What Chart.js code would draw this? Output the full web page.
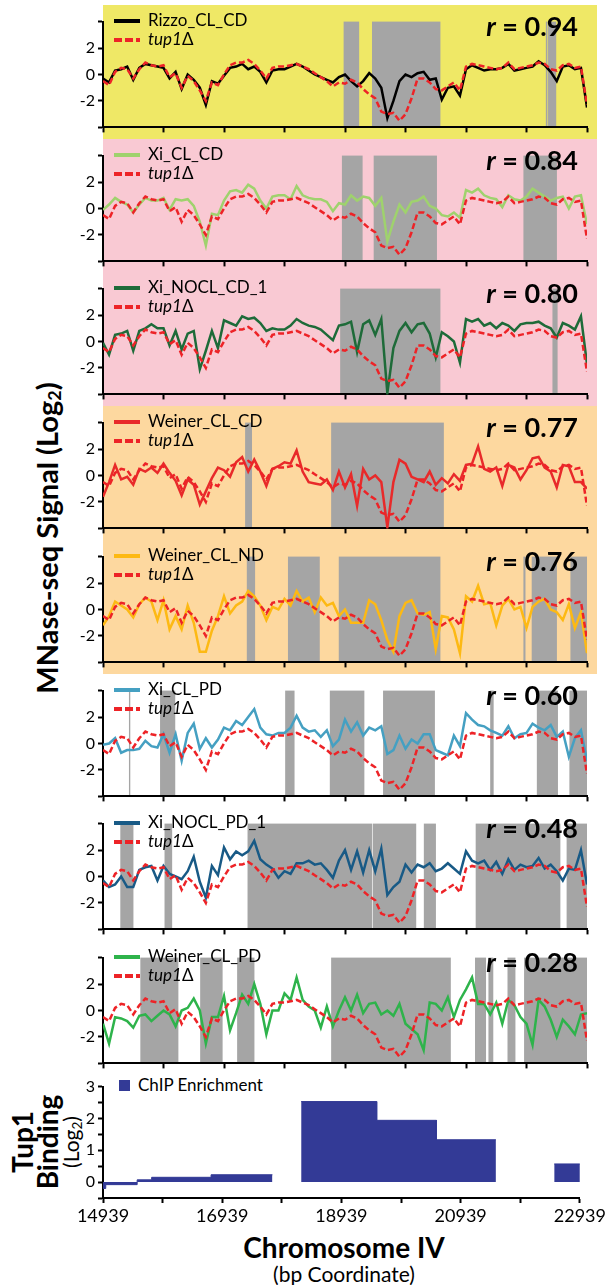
<!DOCTYPE html>
<html>
<head>
<meta charset="utf-8">
<script src="https://cdn.jsdelivr.net/npm/chart.js@4.4.1/dist/chart.umd.min.js"></script>
<style>
  body { margin: 0; background: #fff; font-family: Lato, "Open Sans", sans-serif; color: #000; }
  #page { position: relative; width: 608px; height: 1285px; overflow: hidden; }
  .band { position: absolute; left: 103px; width: 494px; }
  canvas { position: absolute; left: 40px; }
  .leg { position: absolute; left: 114px; font-size: 17px; line-height: 19px; white-space: nowrap; }
  .sw { display: inline-block; width: 26px; height: 4px; vertical-align: middle; margin-right: 8px; position: relative; top: -1px; }
  .rval { position: absolute; right: 30px; font-weight: bold; font-size: 27px; line-height: 32px; white-space: nowrap; }
  .rot { position: absolute; transform: translate(-50%, -50%) rotate(-90deg); white-space: nowrap; text-align: center; }
  .ctr { position: absolute; transform: translate(-50%, -50%); white-space: nowrap; }
</style>
</head>
<body>
<div id="page">
  <div class="rot" style="left:47px; top:538px; font-weight:bold; font-size:29px;">MNase-seq Signal (Log<sub style="font-size:0.62em; vertical-align:-0.15em;">2</sub>)</div>
  <div class="rot" style="left:49px; top:1142px;">
    <div style="font-weight:bold; font-size:28px; line-height:25px;">Tup1</div>
    <div style="font-weight:bold; font-size:28px; line-height:25px;">Binding</div>
    <div style="font-size:21px; line-height:22px;">(Log<sub style="font-size:0.65em; vertical-align:-0.15em;">2</sub>)</div>
  </div>
  <div class="ctr" style="left:344px; top:1247px; font-weight:bold; font-size:28px;">Chromosome IV</div>
  <div class="ctr" style="left:344px; top:1273px; font-size:21px;">(bp Coordinate)</div>
  <div style="position:absolute; left:119px; top:1080px; width:11px; height:11px; background:#333a96;"></div>
  <div style="position:absolute; left:138px; top:1075px; font-size:17px; line-height:20px;">ChIP Enrichment</div>
</div>
<script>
var tickValues = [14939, 15939, 16939, 17939, 18939, 19939, 20939, 21939, 22939];
var labelValues = [14939, 16939, 18939, 20939, 22939];

// sampled every 100 bp from 14939 to 22939
var positions = [];
for (var bp = 14939; bp <= 22939; bp += 100) positions.push(bp);

var tup1 = [
  -0.5, -0.8, 0.2, 0.5, 0.4, -0.3, 0.4, 0.9, 0.7, 0.6,
  0.7, -0.2, 0.1, -1.0, -0.1, -0.5, -1.2, -2.0, -0.6, -0.8,
  0.0, 0.7, 0.9, 0.9, 1.1, 0.8, 0.3, -0.3, 0.5, 0.6,
  0.6, 0.7, 0.8, 0.6, 0.4, 0.1, -0.2, -0.5, -0.9, -0.6,
  -0.7, -0.4, -0.6, -1.1, -1.5, -1.8, -2.8, -3.0, -2.9, -3.5,
  -3.0, -1.8, -0.3, -0.3, -0.6, -1.1, -1.2, -0.9, -0.6, -1.2,
  0.6, 0.8, 0.7, 0.6, 0.5, 0.4, 0.5, 0.9, 0.4, 0.5,
  0.6, 0.7, 0.9, 0.8, 0.4, 0.3, 0.7, 0.8, 0.5, 0.6, -2.3
];
var rizzoCLCD = [
  -0.3, -0.6, 0.3, 0.4, 0.6, -0.4, 0.5, 0.8, 0.7, 0.6,
  0.5, -0.3, 0.2, -1.1, 0.0, -0.4, -1.0, -2.3, -0.5, -0.7,
  -0.1, 0.5, 0.6, 0.8, 0.4, 0.6, 0.2, -0.6, 0.3, 0.4,
  0.4, 0.6, 0.8, 0.6, 0.3, 0.0, -0.2, -0.4, -0.6, -0.2,
  0.0, -0.5, -0.9, -0.5, 0.1, -0.3, -1.0, -3.3, -2.0, -0.5,
  0.0, -0.2, 0.1, 0.2, -0.4, -0.3, -1.9, -1.0, -0.9, -1.6,
  0.4, 0.7, 0.5, 0.3, 0.4, 0.4, 0.5, 0.8, 0.3, 0.4,
  0.5, 0.6, 1.0, 0.7, 0.2, -0.5, 0.6, 0.7, 0.4, 0.5, -2.5
];
var xiCLCD = [
  -0.1, 0.3, 0.8, 0.5, 0.3, -0.3, 0.3, 0.8, 0.6, 0.6,
  0.8, -0.1, 0.7, 0.6, 0.7, 0.2, -1.0, -2.8, -0.4, -0.5,
  0.6, 1.3, 1.4, 1.2, 1.8, 1.5, 0.6, 0.0, 0.9, 1.0,
  1.0, 0.7, 1.7, 1.0, 0.8, 0.7, 0.7, 0.5, -0.2, 0.4,
  0.3, 1.0, 0.6, 0.9, 0.8, 0.2, 0.8, -2.5, -1.0, 0.3,
  -0.3, 0.5, 0.6, 0.9, 0.2, 0.0, -0.5, -0.6, -0.3, -0.7,
  1.4, 1.2, 1.5, 1.0, 0.8, 0.7, 0.1, 1.0, 0.7, 0.6,
  0.9, 1.5, 1.2, 0.9, 0.6, 0.8, 0.9, 0.0, 0.9, 1.0, -1.2
];
var xiNOCLCD1 = [
  -0.1, -1.0, 0.5, 0.6, 0.8, -0.7, 0.8, 1.0, 1.3, 1.0,
  1.0, -0.3, 0.8, -0.6, 0.6, 0.8, -2.1, -0.7, 0.8, -0.5,
  1.6, 1.4, 1.2, 1.9, 1.7, 1.8, 1.4, 0.8, 1.0, 0.9,
  0.9, 1.2, 1.7, 1.4, 1.2, 1.1, 0.9, 0.5, 0.1, 1.2,
  1.3, 1.5, -0.8, 1.3, 1.6, 0.5, 1.7, -3.9, -0.5, 0.8,
  1.4, 0.7, 1.3, 1.4, 0.6, -1.2, 0.7, 0.4, 0.0, -1.6,
  1.7, 1.5, 1.7, 1.2, 1.4, 1.0, 1.4, 1.2, 0.8, 1.3,
  1.4, 1.4, 1.5, 1.2, 1.0, 0.3, 1.4, 1.2, 0.9, 1.9, -1.7
];
var weinerCLCD = [
  -1.6, -0.5, 0.8, -0.3, -0.1, -0.7, 0.5, 0.3, 0.6, 0.2,
  0.9, 0.2, -0.4, -1.5, -0.3, -0.7, -2.2, -1.2, -0.2, 0.6,
  0.4, -0.1, 1.0, 1.4, 0.3, 1.2, 0.3, -0.8, 0.5, 0.7,
  1.0, 0.9, 1.9, 0.3, -0.5, -0.6, -0.7, -0.3, -1.1, 0.3,
  -0.9, 0.1, -2.3, 0.5, -0.3, 0.0, -0.5, -3.9, -0.5, 1.2,
  0.9, -0.1, -0.3, -0.5, 0.3, -0.7, -0.2, -0.6, 0.1, -0.4,
  0.8, 0.9, 2.2, 0.5, 0.3, 0.6, -0.8, 0.8, 0.6, -0.3,
  0.4, 1.3, 1.4, 0.6, 0.3, -0.9, 0.8, 0.7, -0.5, -0.5, -1.0
];
var weinerCLND = [
  -1.2, -0.5, 0.6, 0.3, 0.0, -0.6, 0.4, 0.9, 0.6, -0.8,
  0.7, -1.5, -0.5, -1.5, 0.3, -1.0, -3.2, -3.2, -1.6, -0.5,
  1.0, -0.3, 0.3, 0.6, 1.4, 1.0, 0.3, -0.8, 0.2, 0.0,
  0.8, 0.3, 1.4, 0.6, 0.9, -0.2, 0.9, 0.3, 0.5, -0.5,
  0.0, -1.0, -1.0, -1.0, 0.7, 0.4, -0.8, -2.3, -3.2, -0.5,
  0.5, 0.7, -0.3, -0.4, -0.2, -3.0, -0.5, -0.6, -1.5, -3.3,
  1.0, 0.6, 1.8, 0.4, 0.5, -1.2, 0.3, 0.8, 0.0, 0.2,
  -1.4, 0.2, 0.6, 0.8, 0.0, -0.2, -0.8, 0.4, -1.4, -0.2, -3.3
];
var xiCLPD = [
  -0.1, 0.0, 0.4, -0.7, -0.5, -0.5, -0.4, 0.2, -0.2, -0.3,
  0.7, -0.7, 0.7, -1.3, 0.8, 1.5, -0.4, 0.4, -0.3, 0.3,
  1.2, 1.0, 1.7, 1.4, 2.0, 2.6, 1.2, 0.7, 0.6, 0.8,
  0.8, 1.2, 2.1, 1.2, 0.9, 1.0, 0.5, 1.0, -0.2, 0.3,
  1.8, 0.9, 1.6, 0.6, 1.2, 1.0, 1.3, -0.8, -0.5, 0.6,
  -0.4, 0.3, 0.0, 0.7, 0.7, -0.5, -0.7, -0.9, 0.6, -0.2,
  2.3, 1.8, 1.4, 1.3, 1.0, 0.8, 0.6, 1.3, 0.4, 0.7,
  0.8, 1.5, 1.2, 1.0, 1.4, 0.5, 0.9, -1.0, 0.4, 1.0, -1.3
];
var xiNOCLPD1 = [
  -0.3, -0.8, -0.6, 0.0, -0.8, -0.8, 0.5, 0.7, 0.8, -0.3,
  0.8, 0.2, 0.0, -0.2, 0.4, 1.5, -0.4, -1.6, 0.8, 0.1,
  2.2, 1.3, 1.9, 1.6, 1.9, 2.7, 1.3, 0.9, 0.6, -0.1,
  0.4, 0.2, 1.0, 1.0, 1.2, 0.9, 1.0, 0.5, -0.1, 1.2,
  2.0, 0.5, 1.9, 0.3, 2.0, 0.4, 2.1, -1.4, -0.8, -0.4,
  0.9, 0.3, 0.9, 0.7, 1.0, 0.4, 0.6, 1.0, 0.6, 0.2,
  1.9, 1.2, 1.0, 1.2, 0.5, 1.1, 0.2, 1.3, 0.5, 0.9,
  0.7, 0.8, 1.4, 0.6, 0.9, 0.4, -0.3, 0.6, 0.5, 2.0, -0.6
];
var weinerCLPD = [
  -1.0, -2.5, -0.5, -0.6, -0.8, -1.3, -0.4, -0.3, -0.8, -0.4,
  0.0, -0.3, -1.2, 0.0, 0.2, 0.9, 0.0, -2.5, -0.5, -0.5,
  1.1, -1.5, -0.2, 1.2, 0.5, 2.0, 0.5, -1.8, 0.0, 0.0,
  1.3, 0.8, 2.5, 0.8, 0.3, 0.0, -1.3, 0.3, -1.2, 0.0,
  1.0, 0.0, 1.2, -0.2, 0.5, 0.6, -0.3, 0.0, -0.4, 0.5,
  -1.0, -1.4, -1.8, -3.0, 0.6, 0.5, 0.0, 1.0, -0.5, 0.8,
  1.6, 2.5, 0.5, 0.5, -0.3, 0.6, -1.0, 0.8, 0.4, -0.5,
  -1.0, -2.6, 0.8, 0.3, -0.7, -2.0, -0.7, -1.2, -1.8, -0.3, -0.2
];

var sampleNames = ["Rizzo_CL_CD", "Xi_CL_CD", "Xi_NOCL_CD_1", "Weiner_CL_CD", "Weiner_CL_ND", "Xi_CL_PD", "Xi_NOCL_PD_1", "Weiner_CL_PD"];
var sampleSeries = [rizzoCLCD, xiCLCD, xiNOCLCD1, weinerCLCD, weinerCLND, xiCLPD, xiNOCLPD1, weinerCLPD];
var correlations = ["0.94", "0.84", "0.80", "0.77", "0.76", "0.60", "0.48", "0.28"];

// grey boxes, bp start/end
var shadeRegions = [
  [[18916, 19173], [19385, 20516], [22259, 22285], [22295, 22430]],
  [[18888, 19230], [19413, 20459], [21888, 22442]],
  [[18859, 20516], [22368, 22453]],
  [[17288, 17402], [18710, 20573]],
  [[17316, 17453], [17996, 18522], [18836, 20516], [21888, 21922], [22025, 22442], [22665, 22939]],
  [[15368, 15390], [15882, 16133], [17950, 18105], [18688, 19259], [19568, 20425], [21339, 21396], [22110, 22459], [22648, 22939]],
  [[15225, 15442], [15956, 16082], [17328, 19385], [19396, 20116], [20242, 20442], [21099, 22499], [22602, 22939]],
  [[15556, 16185], [16545, 16916], [17156, 17442], [18710, 20688], [21088, 21270], [21310, 21390], [21625, 21756], [21899, 22939]]
];

// Tup1 ChIP enrichment blocks
var chipStart = [14939, 14985, 15512, 15755, 16752, 18263, 19530, 20533, 22508];
var chipEnd = [14985, 15512, 15755, 16752, 17781, 19530, 20533, 21530, 22939];
var chipValue = [-0.2, -0.08, 0.07, 0.15, 0.23, 2.53, 1.94, 1.33, 0.57];

var lineColors = ["#000000", "#9fd26d", "#1e6b39", "#e82a2a", "#fdb913", "#45a0c2", "#185a86", "#2eb34b"];
var bandColors = ["#efe866", "#f9c9d3", "#f9c9d3", "#fdd89f", "#fdd89f", null, null, null];
var tupColor = "#ed2327";

var shadePlugin = {
  id: "shade",
  beforeDraw: function (chart, args, opts) {
    var xs = chart.scales.x, area = chart.chartArea, ctx = chart.ctx;
    ctx.save();
    ctx.fillStyle = "#a5a5a5";
    (opts.regions || []).forEach(function (r) {
      var x0 = xs.getPixelForValue(r[0]), x1 = xs.getPixelForValue(r[1]);
      ctx.fillRect(x0, area.top, x1 - x0, area.bottom - area.top);
    });
    ctx.restore();
  }
};

function pts(series) {
  return series.map(function (v, i) { return { x: positions[i], y: v }; });
}

var tickFont = { family: "Lato, 'Open Sans', sans-serif", size: 16 };
var page = document.getElementById("page");

function xAxis(showLabels, h) {
  return {
    type: "linear", min: 14939, max: 22939,
    afterBuildTicks: function (s) { s.ticks = tickValues.map(function (v) { return { value: v }; }); },
    ticks: {
      display: showLabels, autoSkip: false, maxRotation: 0, color: "#000", padding: 2,
      font: { family: tickFont.family, size: 18 },
      callback: function (v) { return labelValues.indexOf(v) >= 0 ? String(v) : ""; }
    },
    grid: { drawOnChartArea: false, tickLength: 5, tickWidth: 2, tickColor: "#000" },
    border: { color: "#000", width: 2 },
    afterFit: function (s) { s.height = h; }
  };
}

function yAxis(min, max, step, labelFn) {
  return {
    min: min, max: max,
    ticks: { stepSize: step, autoSkip: false, color: "#000", font: tickFont, padding: 3, callback: labelFn },
    grid: { drawOnChartArea: false, tickLength: 5, tickWidth: 2, tickColor: "#000" },
    border: { color: "#000", width: 2 },
    afterFit: function (s) { s.width = 63; }
  };
}

var panelTop0 = 13, panelStep = 133.7, panelH = 119;

sampleNames.forEach(function (name, i) {
  var top = Math.round(panelTop0 + panelStep * i);
  if (bandColors[i]) {
    var b = document.createElement("div");
    b.className = "band";
    b.style.top = (top - 8) + "px";
    b.style.height = "134px";
    b.style.background = bandColors[i];
    page.appendChild(b);
  }
  var cv = document.createElement("canvas");
  cv.width = 568; cv.height = panelH + 4 + 8;
  cv.style.top = (top - 4) + "px";
  page.appendChild(cv);

  var leg = document.createElement("div");
  leg.className = "leg";
  leg.style.top = (top - 3) + "px";
  leg.innerHTML = '<div><span class="sw" style="background:' + lineColors[i] + '"></span>' + name + '</div>' +
    '<div><span class="sw" style="background:repeating-linear-gradient(to right,' + tupColor + ' 0 8px,transparent 8px 11px)"></span><i>tup1</i>&Delta;</div>';
  page.appendChild(leg);

  var r = document.createElement("div");
  r.className = "rval";
  r.style.top = (top - 3) + "px";
  r.innerHTML = "<i>r</i> = " + correlations[i];
  page.appendChild(r);

  new Chart(cv.getContext("2d"), {
    type: "line",
    data: {
      datasets: [
        { label: name, data: pts(sampleSeries[i]), borderColor: lineColors[i], borderWidth: 2.5, pointRadius: 0, tension: 0, order: 2 },
        { label: "tup1Δ", data: pts(tup1), borderColor: tupColor, borderWidth: 2.5, borderDash: [6, 3], pointRadius: 0, tension: 0, order: 1 }
      ]
    },
    options: {
      responsive: false,
      animation: false,
      layout: { padding: { top: 4, right: 21, left: 0, bottom: 0 } },
      scales: {
        x: xAxis(false, 8),
        y: yAxis(-4, 4, 2, function (v) { return Math.abs(v) === 4 ? "" : String(v); })
      },
      plugins: {
        legend: { display: false },
        tooltip: { enabled: false },
        shade: { regions: shadeRegions[i] }
      }
    },
    plugins: [shadePlugin]
  });
});

// Tup1 binding panel
var chipPts = [];
chipStart.forEach(function (s, j) {
  chipPts.push({ x: s, y: chipValue[j] });
  chipPts.push({ x: chipEnd[j], y: chipValue[j] });
  if (j < chipStart.length - 1 && chipStart[j + 1] > chipEnd[j]) chipPts.push({ x: chipEnd[j], y: null });
});

var bcv = document.createElement("canvas");
bcv.width = 568; bcv.height = 4 + 120 + 30;
bcv.style.top = "1074px";
page.appendChild(bcv);

new Chart(bcv.getContext("2d"), {
  type: "line",
  data: {
    datasets: [{
      label: "ChIP Enrichment", data: chipPts, borderColor: "#333a96", backgroundColor: "#333a96",
      borderWidth: 1, pointRadius: 0, tension: 0, fill: "origin", spanGaps: false
    }]
  },
  options: {
    responsive: false,
    animation: false,
    layout: { padding: { top: 4, right: 21, left: 0, bottom: 0 } },
    scales: {
      x: xAxis(true, 30),
      y: yAxis(-0.5, 3, 0.5, function (v) { return Math.abs(v - Math.round(v)) < 1e-6 ? String(Math.round(v)) : ""; })
    },
    plugins: { legend: { display: false }, tooltip: { enabled: false } }
  }
});
</script>
</body>
</html>
